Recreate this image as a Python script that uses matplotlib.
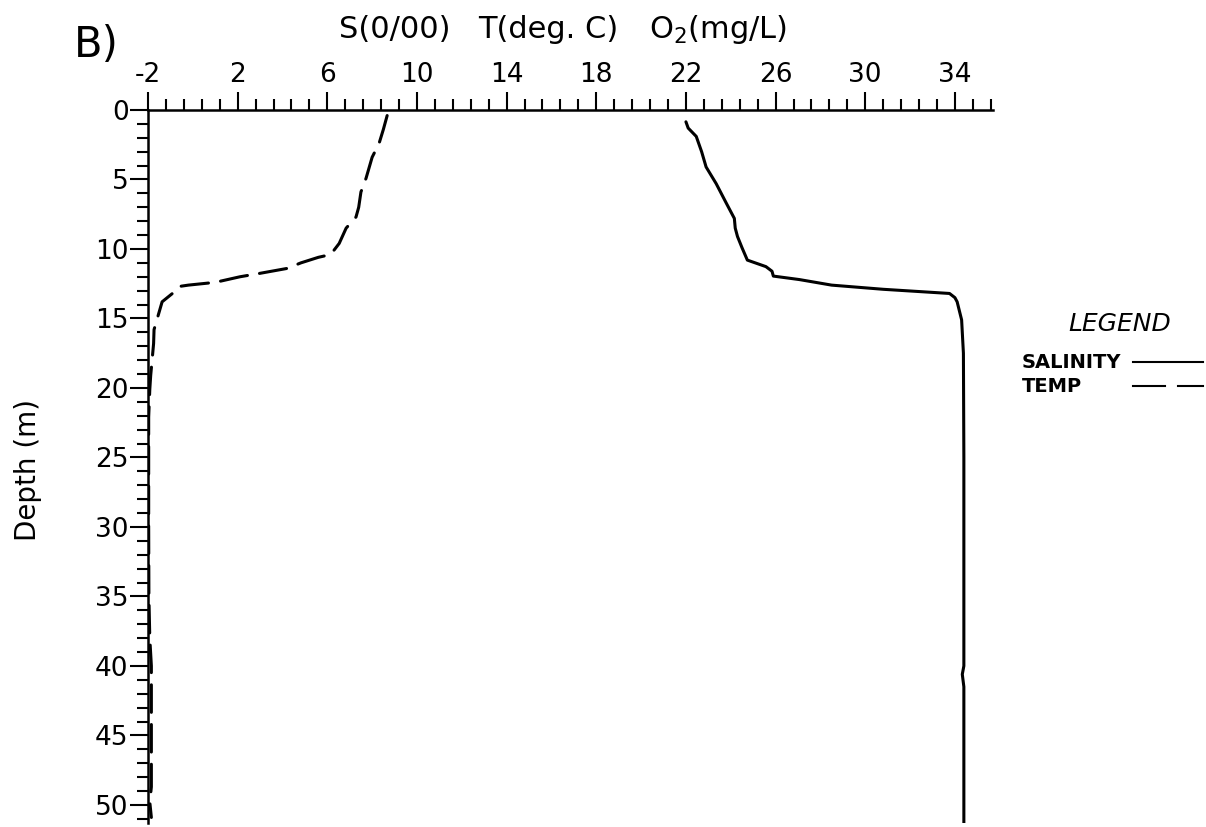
import matplotlib
matplotlib.use('Agg')
import matplotlib.pyplot as plt
from matplotlib.lines import Line2D
import numpy as np

plt.rcParams['font.family'] = ['DejaVu Sans']
plt.rcParams['axes.unicode_minus'] = False

# temperature profile (deg C) vs depth (m)
temp_depth = [0.4, 1.4, 2.4, 3.4, 4.9, 5.9, 7.0, 7.7, 8.5, 9.6, 10.4, 10.6, 11.0, 11.4,
              11.75, 12.0, 12.4, 12.6, 12.7, 13.2, 13.8, 15.8, 16.8, 19.1, 20.1, 22.1,
              25.0, 30.0, 35.0, 38.0, 40.0, 45.0, 48.7, 49.8, 50.9]
temp = [8.67, 8.5, 8.31, 8.0, 7.73, 7.5, 7.4, 7.28, 6.84, 6.53, 6.15, 5.6, 4.82, 4.2,
        3.0, 2.1, 1.0, -0.2, -0.62, -0.91, -1.37, -1.73, -1.75, -1.88, -1.92, -1.97,
        -1.97, -1.97, -1.96, -1.92, -1.85, -1.85, -1.85, -1.92, -1.85]

# salinity profile (o/oo) vs depth (m)
sal_depth = [0.85, 1.3, 1.9, 3.0, 4.1, 5.3, 6.7, 7.8, 8.5, 9.1, 9.9, 10.8, 11.27, 11.6,
             11.95, 12.2, 12.6, 12.9, 13.2, 13.5, 13.8, 15.1, 17.5, 25.0, 35.0, 40.0,
             40.6, 41.5, 45.0, 51.4]
sal = [22.0, 22.1, 22.46, 22.7, 22.9, 23.35, 23.8, 24.16, 24.2, 24.3, 24.5, 24.74, 25.57,
       25.84, 25.9, 27.06, 28.5, 30.8, 33.76, 34.0, 34.1, 34.3, 34.38, 34.4, 34.4, 34.4,
       34.33, 34.4, 34.4, 34.4]

x_major = np.arange(-2, 35, 4)
x_minor = np.arange(-2, 35.7, 0.8)
y_major = np.arange(0, 51, 5)
y_minor = np.arange(0, 52, 1)

fig = plt.figure(figsize=(12.06, 8.27), dpi=100)
ax = fig.add_axes([148 / 1206, 1 - 823 / 827, 845 / 1206, (823 - 110) / 827])

ax.plot(sal, sal_depth, color='black', lw=2.2, solid_capstyle='round')
ax.plot(temp, temp_depth, color='black', lw=2.2, dashes=(9, 4), dash_capstyle='round')

ax.set_xlim(-2, 35.7)
ax.set_ylim(51.3, 0)

ax.spines['right'].set_visible(False)
ax.spines['bottom'].set_visible(False)
ax.spines['top'].set_linewidth(1.8)
ax.spines['left'].set_linewidth(1.8)

ax.xaxis.tick_top()
ax.set_xticks(x_major)
ax.set_xticks(x_minor, minor=True)
ax.set_xticklabels([str(v) for v in x_major])
ax.set_yticks(y_major)
ax.set_yticks(y_minor, minor=True)
ax.set_yticklabels([str(v) for v in y_major])

ax.tick_params(axis='both', which='major', direction='out', length=13, width=1.5,
               labelsize=19, pad=3)
ax.tick_params(axis='both', which='minor', direction='out', length=8, width=1.5)
ax.tick_params(axis='y', which='major', pad=1)

fig.text(28 / 1206, 1 - 470 / 827, 'Depth (m)', fontsize=20, rotation=90,
         ha='center', va='center')

fig.text(74 / 1206, 1 - 57 / 827, 'B)', fontsize=30, ha='left', va='baseline')
fig.text(395 / 1206, 1 - 38 / 827, 'S(0/00)', fontsize=22, ha='center', va='baseline')
fig.text(548 / 1206, 1 - 38 / 827, 'T(deg. C)', fontsize=22, ha='center', va='baseline')
fig.text(718 / 1206, 1 - 38 / 827, r'O$_2$(mg/L)', fontsize=22, ha='center', va='baseline')

# legend drawn by hand at the right side
fig.text(1120 / 1206, 1 - 331 / 827, 'LEGEND', fontsize=18, style='italic',
         ha='center', va='baseline')
fig.text(1022 / 1206, 1 - 368 / 827, 'SALINITY', fontsize=14, fontweight='bold',
         ha='left', va='baseline')
fig.text(1022 / 1206, 1 - 392 / 827, 'TEMP', fontsize=14, fontweight='bold',
         ha='left', va='baseline')
fig.add_artist(Line2D([1133 / 1206, 1203 / 1206], [1 - 362 / 827, 1 - 362 / 827],
                      color='black', lw=1.5, transform=fig.transFigure))
fig.add_artist(Line2D([1133 / 1206, 1165 / 1206], [1 - 386 / 827, 1 - 386 / 827],
                      color='black', lw=1.5, transform=fig.transFigure))
fig.add_artist(Line2D([1178 / 1206, 1203 / 1206], [1 - 386 / 827, 1 - 386 / 827],
                      color='black', lw=1.5, transform=fig.transFigure))

fig.savefig('out.png', dpi=100)
